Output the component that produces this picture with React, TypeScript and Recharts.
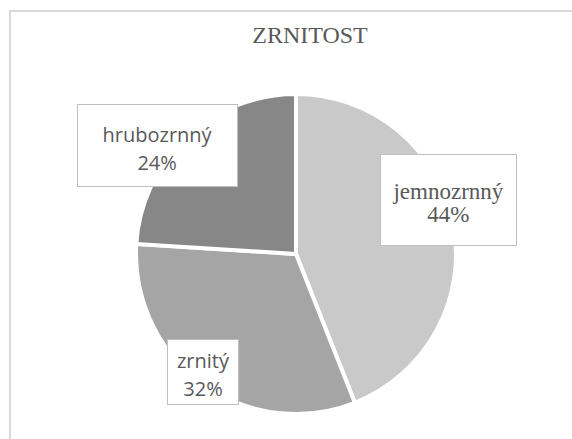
import { PieChart, Pie, Cell } from "recharts";

const categories = ["jemnozrnný", "zrnitý", "hrubozrnný"];
const shares = [44, 32, 24];
const title = "ZRNITOST";

const SLICE_COLORS = ["#c9c9c9", "#a5a5a5", "#878787"];
const TEXT = "#595959";
const SERIF = "'Liberation Serif', 'Times New Roman', serif";
const SANS = "'Open Sans', sans-serif";

// label box layout per slice: radius factor, angle shift (deg), box size, font
const LABELS = [
  { r: 1.01, shift: 8.6, w: 137, h: 92, font: SERIF, size: 23, lh: 23, dy: 2.5 },
  { r: 0.94, shift: -2.2, w: 72, h: 66, font: SANS, size: 20, lh: 28, dy: 3 },
  { r: 1.1, shift: 8.9, w: 161, h: 83, font: SANS, size: 20, lh: 28, dy: 3 },
];

const data = categories.map((name, i) => ({ name, value: shares[i] }));

const RAD = Math.PI / 180;

function renderLabel(props: any) {
  const { cx, cy, midAngle, outerRadius, index } = props;
  const lay = LABELS[index];
  const a = (midAngle + lay.shift) * RAD;
  const x = cx + outerRadius * lay.r * Math.cos(a);
  const y = cy - outerRadius * lay.r * Math.sin(a);
  return (
    <foreignObject x={x - lay.w / 2} y={y - lay.h / 2} width={lay.w} height={lay.h}>
      <div
        style={{
          width: lay.w,
          height: lay.h,
          boxSizing: "border-box",
          border: "1px solid #bfbfbf",
          background: "#ffffff",
          display: "flex",
          flexDirection: "column",
          alignItems: "center",
          justifyContent: "center",
          fontFamily: lay.font,
          fontSize: lay.size,
          lineHeight: `${lay.lh}px`,
          color: TEXT,
          whiteSpace: "nowrap",
        }}
      >
        <div style={{ transform: `translateY(${lay.dy}px)`, textAlign: "center" }}>
          <div>{categories[index]}</div>
          <div>{shares[index]}%</div>
        </div>
      </div>
    </foreignObject>
  );
}

export default function App() {
  return (
    <div style={{ position: "absolute", left: 0, top: 0, width: 572, height: 439, overflow: "hidden", background: "#fff" }}>
      {/* chart frame */}
      <div style={{ position: "absolute", left: 9, top: 10, width: 600, height: 500, border: "2px solid #d9d9d9", boxSizing: "border-box" }} />
      <div style={{ position: "absolute", left: 0, top: 20, width: 620, textAlign: "center", fontFamily: SERIF, fontSize: 24, color: TEXT, lineHeight: "30px" }}>
        {title}
      </div>
      <div style={{ position: "absolute", left: 0, top: 0 }}>
        <PieChart width={572} height={439} margin={{ top: 0, right: 0, bottom: 0, left: 0 }}>
          <Pie
            data={data}
            dataKey="value"
            nameKey="name"
            cx={296}
            cy={254}
            outerRadius={160}
            startAngle={90}
            endAngle={-270}
            stroke="#ffffff"
            strokeWidth={4}
            label={renderLabel}
            labelLine={false}
            isAnimationActive={false}
          >
            {data.map((_, i) => (
              <Cell key={i} fill={SLICE_COLORS[i]} />
            ))}
          </Pie>
        </PieChart>
      </div>
    </div>
  );
}
